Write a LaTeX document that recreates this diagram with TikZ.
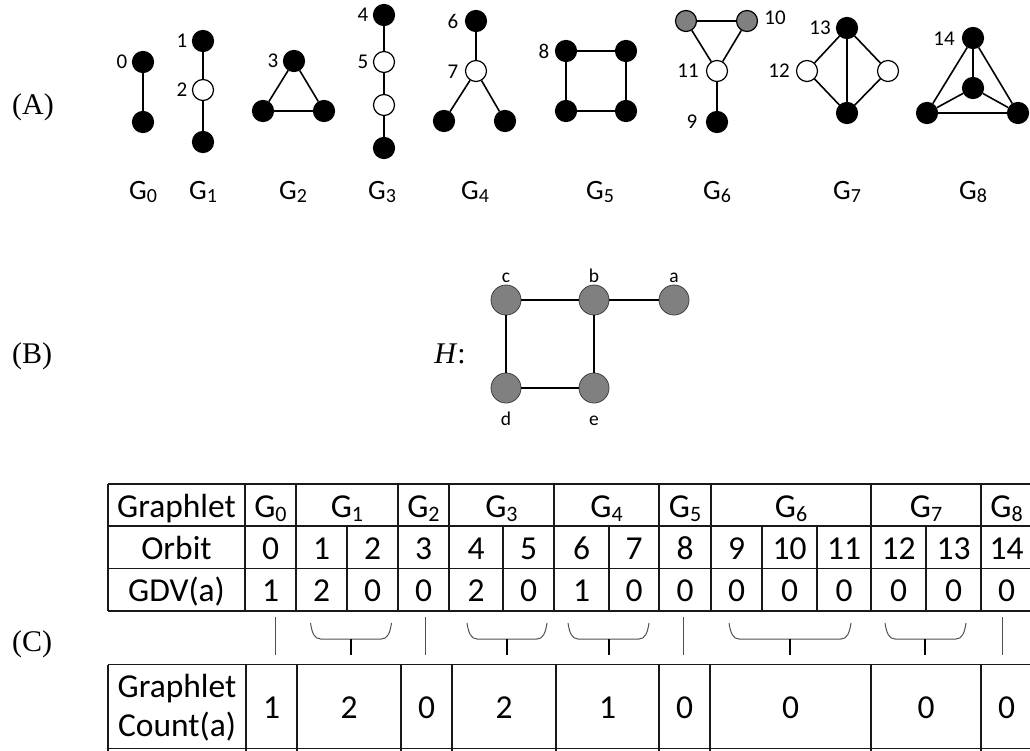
\documentclass[tikz,border=0pt]{standalone}
\usepackage{fontspec}
\setmainfont{Carlito}
\newfontfamily\tnr{Liberation Serif}
\definecolor{ngray}{HTML}{808080}
\definecolor{bgray}{HTML}{505050}
\newcommand\GL[1]{G\raisebox{-3pt}{\fontsize{20}{20}\selectfont #1}}
\newcommand\GT[1]{G\raisebox{-3.5pt}{\fontsize{22}{22}\selectfont #1}}
\begin{document}
\begin{tikzpicture}[x=1pt,y=-1pt,
  bn/.style={circle,draw=black,fill=black,line width=1.2pt,minimum size=21pt,inner sep=0pt},
  wn/.style={bn,fill=white},
  gn/.style={bn,fill=ngray},
  hn/.style={circle,draw=black!75,fill=ngray,line width=0.8pt,minimum size=30pt,inner sep=0pt},
  ed/.style={line width=1.6pt},
  hed/.style={line width=2.8pt},
  nl/.style={font=\fontsize{21}{21}\selectfont,inner sep=0pt},
  gl/.style={font=\fontsize{28}{28}\selectfont,inner sep=0pt,anchor=base},
  hl/.style={font=\fontsize{19.5}{19.5}\selectfont,inner sep=0pt,anchor=base},
  sec/.style={font=\tnr\fontsize{30}{30}\selectfont,inner sep=0pt,anchor=base west},
  tt/.style={font=\fontsize{33.5}{33.5}\selectfont,inner sep=0pt,anchor=base},
  tl/.style={line width=1.5pt,black!90},
  br/.style={line width=1pt,bgray},
  stem/.style={line width=2pt,black},
]
\useasboundingbox (0,0) rectangle (1030,751);
% section labels
\node[sec] (secA) at (12,115) {(A)};
\node[sec] (secB) at (12,363) {(B)};
\node[sec] (secC) at (12,651) {(C)};
% ---------- (A) graphlets ----------
% G0
\node[bn] (a0) at (143,62) {};
\node[bn] (a0b) at (143,122) {};
\draw[ed] (a0) -- (a0b);
% G1
\node[bn] (a1) at (203,41) {};
\node[wn] (a2) at (203,90) {};
\node[bn] (a1b) at (203,142) {};
\draw[ed] (a1) -- (a2) -- (a1b);
% G2
\node[bn] (a3) at (294,61) {};
\node[bn] (a3l) at (263,111) {};
\node[bn] (a3r) at (324,111) {};
\draw[ed] (a3) -- (a3l) -- (a3r) -- (a3);
% G3
\node[bn] (a4) at (384,15) {};
\node[wn] (a5) at (384,62) {};
\node[wn] (a5b) at (384,105) {};
\node[bn] (a4b) at (384,148) {};
\draw[ed] (a4) -- (a5) -- (a5b) -- (a4b);
% G4
\node[bn] (a6) at (476,21) {};
\node[wn] (a7) at (476,71) {};
\node[bn] (a6l) at (444,121) {};
\node[bn] (a6r) at (505,121) {};
\draw[ed] (a6) -- (a7) (a7) -- (a6l) (a7) -- (a6r);
% G5
\node[bn] (a8) at (566,51) {};
\node[bn] (a8r) at (626,51) {};
\node[bn] (a8bl) at (566,111) {};
\node[bn] (a8br) at (626,111) {};
\draw[ed] (a8) -- (a8r) -- (a8br) -- (a8bl) -- (a8);
% G6
\node[gn] (a10l) at (686,21) {};
\node[gn] (a10) at (747,21) {};
\node[wn] (a11) at (717,71) {};
\node[bn] (a9) at (717,122) {};
\draw[ed] (a10l) -- (a10) -- (a11) -- (a10l) (a11) -- (a9);
% G7
\node[bn] (a13) at (847,28) {};
\node[wn] (a12) at (807,71) {};
\node[wn] (a12r) at (888,71) {};
\node[bn] (a13b) at (847,113) {};
\draw[ed] (a13) -- (a12) -- (a13b) -- (a12r) -- (a13) -- (a13b);
% G8
\node[bn] (a14) at (973,38) {};
\node[bn] (a14c) at (973,88) {};
\node[bn] (a14l) at (927,113) {};
\node[bn] (a14r) at (1018,113) {};
\draw[ed] (a14) -- (a14l) -- (a14r) -- (a14) -- (a14c) (a14c) -- (a14l) (a14c) -- (a14r);
% orbit labels
\node[nl] (l0) at (122,62) {0};
\node[nl] (l1) at (182,41) {1};
\node[nl] (l2) at (182,90) {2};
\node[nl] (l3) at (273,61) {3};
\node[nl] (l4) at (363,15) {4};
\node[nl] (l5) at (363,62) {5};
\node[nl] (l6) at (453,21) {6};
\node[nl] (l7) at (453,72) {7};
\node[nl] (l8) at (544,51) {8};
\node[nl] (l9) at (692,122) {9};
\node[nl] (l10) at (775,18) {10};
\node[nl] (l11) at (688,71) {11};
\node[nl] (l12) at (779,71) {12};
\node[nl] (l13) at (820,28) {13};
\node[nl] (l14) at (944,39) {14};
% graphlet names
\node[gl] (g0) at (143,200) {\GL{0}};
\node[gl] (g1) at (203,200) {\GL{1}};
\node[gl] (g2) at (293,200) {\GL{2}};
\node[gl] (g3) at (382,200) {\GL{3}};
\node[gl] (g4) at (475,200) {\GL{4}};
\node[gl] (g5) at (600,200) {\GL{5}};
\node[gl] (g6) at (717,200) {\GL{6}};
\node[gl] (g7) at (847,200) {\GL{7}};
\node[gl] (g8) at (973,200) {\GL{8}};
% ---------- (B) graph H ----------
\node[font=\tnr\fontsize{30}{30}\selectfont,inner sep=0pt,anchor=base] (hlab) at (450,363) {\textit{H}:};
\node[hn] (hc) at (506,300) {};
\node[hn] (hb) at (594,300) {};
\node[hn] (ha) at (674,300) {};
\node[hn] (hd) at (506,388) {};
\node[hn] (he) at (594,388) {};
\draw[hed] (hc) -- (hb) -- (ha) (hc) -- (hd) -- (he) -- (hb);
\node[hl] (tc) at (506,282) {c};
\node[hl] (tb) at (594,282) {b};
\node[hl] (ta) at (674,282) {a};
\node[hl] (td) at (506,425) {d};
\node[hl] (te) at (594,425) {e};
% ---------- (C) tables ----------
% upper table grid
\draw[tl] (108,484) -- (1040,484);
\draw[tl] (108,526) -- (1040,526);
\draw[tl] (108,568.5) -- (1040,568.5);
\draw[tl] (108,611) -- (1040,611);
\foreach \x in {108,245,296,398,449,554,659,711,871,981,1032}
  \draw[tl] (\x,484) -- (\x,611);
\foreach \x in {347,503,609,762,817,926}
  \draw[tl] (\x,526) -- (\x,611);
% upper table texts
\node[tt] (hG) at (176.5,517.5) {Graphlet};
\node[tt] (hO) at (176.5,559.5) {Orbit};
\node[tt] (hD) at (176.5,601.5) {GDV(a)};
\node[tt] (t0) at (270.5,517.5) {\GT{0}};
\node[tt] (t1) at (347,517.5) {\GT{1}};
\node[tt] (t2) at (423.5,517.5) {\GT{2}};
\node[tt] (t3) at (501.5,517.5) {\GT{3}};
\node[tt] (t4) at (606.5,517.5) {\GT{4}};
\node[tt] (t5) at (685,517.5) {\GT{5}};
\node[tt] (t6) at (791,517.5) {\GT{6}};
\node[tt] (t7) at (926,517.5) {\GT{7}};
\node[tt] (t8) at (1006.5,517.5) {\GT{8}};
\foreach \xa/\xb/\o/\v [count=\i] in {245/296/0/1,296/347/1/2,347/398/2/0,398/449/3/0,449/503/4/2,503/554/5/0,554/609/6/1,609/659/7/0,659/711/8/0,711/762/9/0,762/817/10/0,817/871/11/0,871/926/12/0,926/981/13/0,981/1032/14/0}{
  \node[tt] (o\i) at ({(\xa+\xb)/2},559.5) {\o};
  \node[tt] (v\i) at ({(\xa+\xb)/2},601.5) {\v};
}
% connectors between tables
\draw[br] (275,617) -- (275,655);
\draw[br] (425,617) -- (425,655);
\draw[br] (683,617) -- (683,655);
\draw[br] (1002,617) -- (1002,655);
\foreach \xa/\xb/\xm in {310.5/391.5/351, 467/547/507, 568/649/609, 729/851/790, 885/966/925}{
  \draw[br] (\xa,623) .. controls (\xa+1.5,633) and (\xa+4,639) .. (\xa+10,639)
     -- (\xb-10,639) .. controls (\xb-4,639) and (\xb-1.5,633) .. (\xb,623);
  \draw[stem] (\xm,639) -- (\xm,655);
}
% lower table grid
\draw[tl] (108,664.5) -- (1040,664.5);
\draw[tl] (108,748.5) -- (1040,748.5);
\foreach \x in {108,246,297,401,452,556,659,710,871,981}
  \draw[tl] (\x,664.5) -- (\x,755);
\node[tt] (cG) at (177,697.5) {Graphlet};
\node[tt] (cC) at (177,736.5) {Count(a)};
\foreach \xa/\xb/\v [count=\i] in {246/297/1,297/401/2,401/452/0,452/556/2,556/659/1,659/710/0,710/871/0,871/981/0,981/1032/0}{
  \node[tt] (c\i) at ({(\xa+\xb)/2},718) {\v};
}
\end{tikzpicture}
\end{document}
